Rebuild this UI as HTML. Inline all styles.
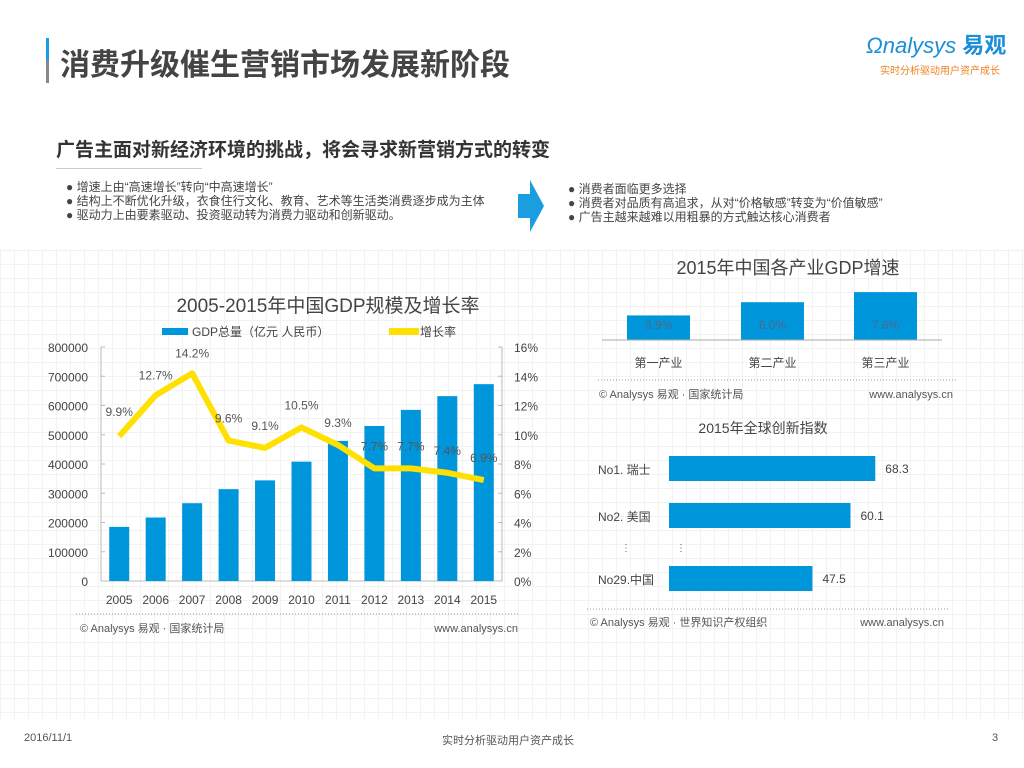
<!DOCTYPE html>
<html><head><meta charset="utf-8"><style>
body{margin:0;width:1024px;height:768px;overflow:hidden;background:#fff;font-family:"Liberation Sans","Noto Sans CJK SC",sans-serif;position:relative;color:#333}
.abs{position:absolute}
.bg{position:absolute;left:0;top:250px;width:1024px;height:470px;background-image:linear-gradient(#f2f2f2 1px,transparent 1px),linear-gradient(90deg,#f2f2f2 1px,transparent 1px);background-size:14px 14px}
</style></head><body>
<div class="bg"></div>
<div class="abs" style="left:46px;top:38px;width:3px;height:45px;background:linear-gradient(#1a9ee0 50%,#888 50%)"></div>
<div class="abs" style="left:60px;top:40px;font-size:30px;font-weight:bold;color:#444">消费升级催生营销市场发展新阶段</div>
<div class="abs" style="left:866px;top:28px;font-size:22px;color:#1a8fd8;font-style:italic">Ωnalysys <b style="font-style:normal">易观</b></div>
<div class="abs" style="left:880px;top:62px;font-size:10px;color:#f08020">实时分析驱动用户资产成长</div>
<div class="abs" style="left:56px;top:135px;font-size:19px;font-weight:bold;color:#333">广告主面对新经济环境的挑战，将会寻求新营销方式的转变</div>
<div class="abs" style="left:56px;top:168px;width:146px;height:1px;background:#ccc"></div>
<div class="abs" style="left:66px;top:180px;font-size:12px;line-height:14px;color:#444">● 增速上由“高速增长”转向“中高速增长”<br>● 结构上不断优化升级，衣食住行文化、教育、艺术等生活类消费逐步成为主体<br>● 驱动力上由要素驱动、投资驱动转为消费力驱动和创新驱动。</div>
<svg class="abs" style="left:516px;top:180px" width="30" height="52"><polygon points="2,14 14,14 14,0 28,26 14,52 14,38 2,38" fill="#1a9ee0"/></svg>
<div class="abs" style="left:568px;top:182px;font-size:12px;line-height:14px;color:#444">● 消费者面临更多选择<br>● 消费者对品质有高追求，从对“价格敏感”转变为“价值敏感”<br>● 广告主越来越难以用粗暴的方式触达核心消费者</div>

<svg id="gdp" class="abs" style="left:0;top:280px" width="560" height="360"></svg>
<svg id="ind" class="abs" style="left:580px;top:250px" width="400" height="160"></svg>
<svg id="inn" class="abs" style="left:580px;top:410px" width="400" height="230"></svg>

<div class="abs" style="left:24px;top:732px;font-size:11px;color:#555">2016/11/1</div>
<div class="abs" style="left:442px;top:732px;font-size:11px;color:#555">实时分析驱动用户资产成长</div>
<div class="abs" style="left:992px;top:732px;font-size:11px;color:#555">3</div>

<script>
const years=["2005","2006","2007","2008","2009","2010","2011","2012","2013","2014","2015"];
const gdpValues=[185000,217000,266000,314000,344000,408000,479000,530000,585000,632000,673000];
const growthValues=[9.9,12.7,14.2,9.6,9.1,10.5,9.3,7.7,7.7,7.4,6.9];
const leftTicks=[0,100000,200000,300000,400000,500000,600000,700000,800000];
const rightTicks=[0,2,4,6,8,10,12,14,16];
const industries=["第一产业","第二产业","第三产业"];
const industryValues=[3.9,6.0,7.6];
const countries=["No1. 瑞士","No2. 美国","No29.中国"];
const innovationValues=[68.3,60.1,47.5];
const NS="http://www.w3.org/2000/svg";
function mk(p,t,a,txt){const e=document.createElementNS(NS,t);for(const k in a)e.setAttribute(k,a[k]);if(txt!==undefined)e.textContent=txt;p.appendChild(e);return e;}
const F='"Liberation Sans","Noto Sans CJK SC",sans-serif';
(function(){
const s=document.getElementById('gdp');
const y0=301,y1=67,xl=101,xr=502;
const yL=v=>y0-(v/800000)*(y0-y1);
const yR=v=>y0-(v/16)*(y0-y1);
const step=(xr-xl)/years.length;
const xC=i=>xl+step*(i+0.5);
let t=mk(s,'text',{x:328,y:32,'text-anchor':'middle','font-size':19,fill:'#444','font-family':F},'2005-2015年中国GDP规模及增长率');

let r=mk(s,'rect',{x:162,y:48,width:26,height:7,fill:'#0096dc'});

t=mk(s,'text',{x:192,y:56,'font-size':12,fill:'#444','font-family':F},'GDP总量（亿元 人民币）');

r=mk(s,'rect',{x:389,y:48,width:30,height:7,fill:'#ffe000'});

t=mk(s,'text',{x:420,y:56,'font-size':12,fill:'#444','font-family':F},'增长率');

mk(s,'line',{x1:xl,y1:y1,x2:xl,y2:y0,stroke:'#bbb'});
mk(s,'line',{x1:xr,y1:y1,x2:xr,y2:y0,stroke:'#bbb'});
mk(s,'line',{x1:xl,y1:y0,x2:xr,y2:y0,stroke:'#bbb'});
leftTicks.forEach(v=>{const e=mk(s,'text',{x:88,y:yL(v)+5,'text-anchor':'end','font-size':12,fill:'#444','font-family':F},String(v));mk(s,'line',{x1:xl,y1:yL(v),x2:xl+4,y2:yL(v),stroke:'#bbb'});});
rightTicks.forEach(v=>{const e=mk(s,'text',{x:514,y:yR(v)+5,'font-size':12,fill:'#444','font-family':F},v+'%');mk(s,'line',{x1:xr-4,y1:yR(v),x2:xr,y2:yR(v),stroke:'#bbb'});});
years.forEach((yr,i)=>{
const b=mk(s,'rect',{x:xC(i)-10,y:yL(gdpValues[i]),width:20,height:y0-yL(gdpValues[i]),fill:'#0096dc'});

const e=mk(s,'text',{x:xC(i),y:y0+23,'text-anchor':'middle','font-size':12,fill:'#444','font-family':F},yr);

});
const pts=growthValues.map((v,i)=>xC(i)+','+yR(v)).join(' ');
const pl=mk(s,'polyline',{points:pts,fill:'none',stroke:'#ffe000','stroke-width':6,'stroke-linejoin':'round'});

growthValues.forEach((v,i)=>{const e=mk(s,'text',{x:xC(i),y:yR(v)-(i==0?20:i<=2?16:18),'text-anchor':'middle','font-size':12,fill:'#555','font-family':F},v.toFixed(1)+'%');});
mk(s,'line',{x1:76,y1:334,x2:520,y2:334,stroke:'#999','stroke-dasharray':'1,2'});
t=mk(s,'text',{x:80,y:352,'font-size':11,fill:'#555','font-family':F},'© Analysys 易观 · 国家统计局');
t=mk(s,'text',{x:518,y:352,'text-anchor':'end','font-size':11,fill:'#555','font-family':F},'www.analysys.cn');
})();
(function(){
const s=document.getElementById('ind');
const base=90,k=6.3,xs=[47,161,274];
let t=mk(s,'text',{x:208,y:24,'text-anchor':'middle','font-size':18,fill:'#444','font-family':F},'2015年中国各产业GDP增速');

industries.forEach((n,i)=>{
const h=industryValues[i]*k;
const b=mk(s,'rect',{x:xs[i],y:base-h,width:63,height:h,fill:'#0096dc'});

const e=mk(s,'text',{x:xs[i]+31.5,y:79,'text-anchor':'middle','font-size':12,fill:'#4a6a85','font-family':F},industryValues[i].toFixed(1)+'%');

const c=mk(s,'text',{x:xs[i]+31.5,y:117,'text-anchor':'middle','font-size':12,fill:'#444','font-family':F},n);

});
mk(s,'line',{x1:22,y1:base,x2:362,y2:base,stroke:'#aaa'});
mk(s,'line',{x1:18,y1:130,x2:378,y2:130,stroke:'#999','stroke-dasharray':'1,2'});
t=mk(s,'text',{x:19,y:148,'font-size':11,fill:'#555','font-family':F},'© Analysys 易观 · 国家统计局');
t=mk(s,'text',{x:373,y:148,'text-anchor':'end','font-size':11,fill:'#555','font-family':F},'www.analysys.cn');
})();
(function(){
const s=document.getElementById('inn');
const x0=89,k=3.02,ys=[46,93,156];
let t=mk(s,'text',{x:183,y:23,'text-anchor':'middle','font-size':14,fill:'#444','font-family':F},'2015年全球创新指数');

countries.forEach((n,i)=>{
const w=innovationValues[i]*k;
const b=mk(s,'rect',{x:x0,y:ys[i],width:w,height:25,fill:'#0096dc'});

const e=mk(s,'text',{x:x0+w+10,y:ys[i]+17,'font-size':12,fill:'#444','font-family':F},innovationValues[i].toFixed(1));

const c=mk(s,'text',{x:18,y:ys[i]+18,'font-size':12,fill:'#444','font-family':F},n);

});
mk(s,'text',{x:41,y:141,'font-size':10,fill:'#666'},'⋮');
mk(s,'text',{x:96,y:141,'font-size':10,fill:'#666'},'⋮');
mk(s,'line',{x1:7,y1:199,x2:368,y2:199,stroke:'#999','stroke-dasharray':'1,2'});
t=mk(s,'text',{x:10,y:216,'font-size':11,fill:'#555','font-family':F},'© Analysys 易观 · 世界知识产权组织');
t=mk(s,'text',{x:364,y:216,'text-anchor':'end','font-size':11,fill:'#555','font-family':F},'www.analysys.cn');
})();
</script>
</body></html>
